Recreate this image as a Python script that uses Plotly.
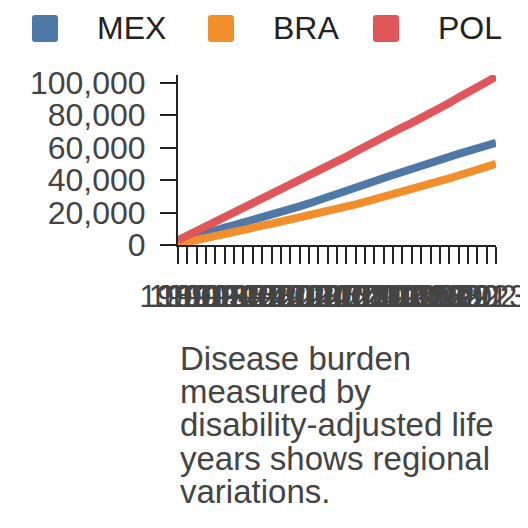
import plotly.graph_objects as go

# data
years = list(range(1989, 2024))
countries = ["MEX", "BRA", "POL"]
mex = [2000, 4000, 5900, 7600, 9200, 10700, 12200, 13700, 15200, 16900,
       18600, 20300, 22000, 23800, 25600, 27400, 29300, 31300, 33300, 35300,
       37300, 39300, 41300, 43300, 45300, 47300, 49200, 51000, 52700, 54400,
       56100, 57800, 59500, 61200, 62900]
bra = [500, 1900, 3300, 4600, 5900, 7100, 8300, 9500, 10700, 11900,
       13100, 14300, 15500, 16800, 18100, 19400, 20800, 22200, 23600, 25000,
       26500, 28000, 29500, 31000, 32600, 34200, 35900, 37600, 39300, 41000,
       42800, 44600, 46400, 48200, 50000]
pol = [3000, 5800, 8700, 11600, 14500, 17400, 20100, 23000, 25800, 28500,
       31200, 33800, 36500, 39300, 42100, 45000, 48000, 51200, 54400, 57600,
       60800, 63900, 66800, 69700, 72500, 75200, 78000, 81000, 84200, 87500,
       90900, 94300, 97600, 100700, 103600]
y_ticks = [0, 20000, 40000, 60000, 80000, 100000]
caption_lines = ["Disease burden", "measured by", "disability-adjusted life",
                 "years shows regional", "variations."]

colors = ["#4e79a7", "#f28e2b", "#e15759"]
FONT = "Liberation Sans, Arial, sans-serif"

# figure geometry (px); the page body adds an 8px margin, so the figure is 520
W = H = 520
L, R, T, B = 170, 32, 67, 283
pw = W - L - R

fig = go.Figure()
for name, vals, c in zip(countries, [mex, bra, pol], colors):
    fig.add_trace(go.Scatter(x=years, y=vals, mode="lines", name=name,
                             line=dict(color=c, width=8), showlegend=False))

# legend drawn by hand: rounded swatches + labels
legend_x = [24, 200, 365]
for name, c, lx in zip(countries, colors, legend_x):
    x0, x1 = lx - L, lx - L + 26
    y0, y1 = T - 34, T - 7
    r = 3
    path = (f"M{x0+r},{y0} L{x1-r},{y0} Q{x1},{y0} {x1},{y0+r} "
            f"L{x1},{y1-r} Q{x1},{y1} {x1-r},{y1} L{x0+r},{y1} "
            f"Q{x0},{y1} {x0},{y1-r} L{x0},{y0+r} Q{x0},{y0} {x0+r},{y0} Z")
    fig.add_shape(type="path", path=path, xref="paper", yref="paper",
                  xsizemode="pixel", ysizemode="pixel", xanchor=0, yanchor=1,
                  fillcolor=c, line_width=0, layer="above")
    fig.add_annotation(text=name, xref="paper", yref="paper",
                       x=(lx + 63 - L) / pw, y=1, xanchor="left", yanchor="middle",
                       yshift=T - 20, showarrow=False,
                       font=dict(family=FONT, size=32, color="#222"))

# caption under the chart, one annotation per line
for i, line in enumerate(caption_lines):
    fig.add_annotation(text=line, xref="paper", yref="paper", x=(170 - L) / pw,
                       y=0, xanchor="left", yanchor="middle",
                       yshift=-(350 + 33.4 * i - (H - B)), showarrow=False,
                       font=dict(family=FONT, size=33, color="#444"))

fig.update_xaxes(range=[years[0], years[-1]], tickmode="array", tickvals=years,
                 ticktext=[str(y) for y in years], tickangle=0, automargin=False,
                 ticks="outside", ticklen=17, tickwidth=2, tickcolor="#222",
                 ticklabelstandoff=6, ticklabelshift=-4,
                 showline=True, linewidth=2, linecolor="#222",
                 showgrid=False, zeroline=False,
                 tickfont=dict(family=FONT, size=31, color="#444"))
fig.update_yaxes(range=[0, 104700], tickmode="array", tickvals=y_ticks,
                 tickformat=",", ticks="outside", ticklen=16, tickwidth=2,
                 tickcolor="#222", ticklabelstandoff=8, automargin=False,
                 showline=True, linewidth=2, linecolor="#222",
                 showgrid=False, zeroline=False,
                 tickfont=dict(family=FONT, size=32, color="#444"))

fig.update_layout(width=W, height=H, margin=dict(l=L, r=R, t=T, b=B, pad=0),
                  plot_bgcolor="white", paper_bgcolor="white",
                  showlegend=False, font=dict(family=FONT))

fig.write_html("out.html")
